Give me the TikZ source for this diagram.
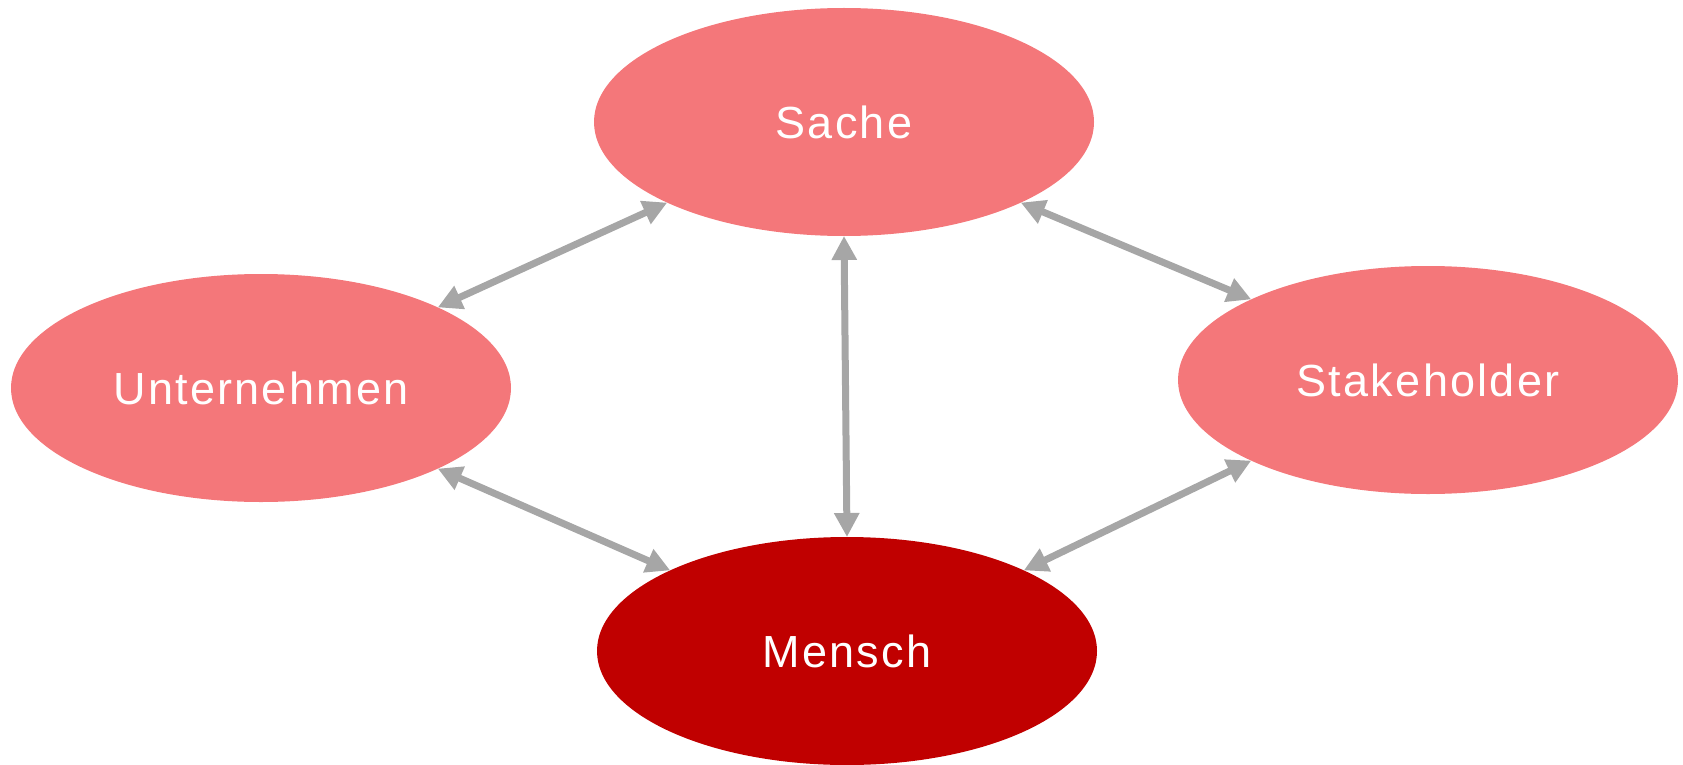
\documentclass[tikz,border=0pt]{standalone}
\usepackage{fontspec}
\setmainfont{Liberation Sans}
\newfontfamily\blobfont[LetterSpace=5]{Liberation Sans}
\usetikzlibrary{shapes.geometric,arrows.meta}
\definecolor{lightred}{HTML}{F4777A}
\definecolor{darkred}{HTML}{C00000}
\definecolor{arrowgrey}{HTML}{A6A6A6}
\begin{document}
\begin{tikzpicture}[x=1pt,y=-1pt,
  blob/.style={ellipse, fill=lightred, draw=none, minimum width=500pt, minimum height=228pt,
    inner sep=0pt, outer sep=0pt, text=white, font=\blobfont\fontsize{45}{54}\selectfont},
  link/.style={draw=arrowgrey, line width=7pt,
    {Triangle[length=24pt,width=24pt]}-{Triangle[length=24pt,width=24pt]}}]
\useasboundingbox (0,0) rectangle (1683,765);
\node[blob] (sache) at (844,122) {Sache};
\node[blob] (unt) at (261,388) {Unternehmen};
\node[blob] (stake) at (1428,380) {Stakeholder};
\node[blob, fill=darkred] (mensch) at (847,651) {Mensch};
\draw[link] (unt.north east) -- (sache.south west);
\draw[link] (unt.south east) -- (mensch.north west);
\draw[link] (sache.south) -- (mensch.north);
\draw[link] (sache.south east) -- (stake.north west);
\draw[link] (mensch.north east) -- (stake.south west);
\end{tikzpicture}
\end{document}
